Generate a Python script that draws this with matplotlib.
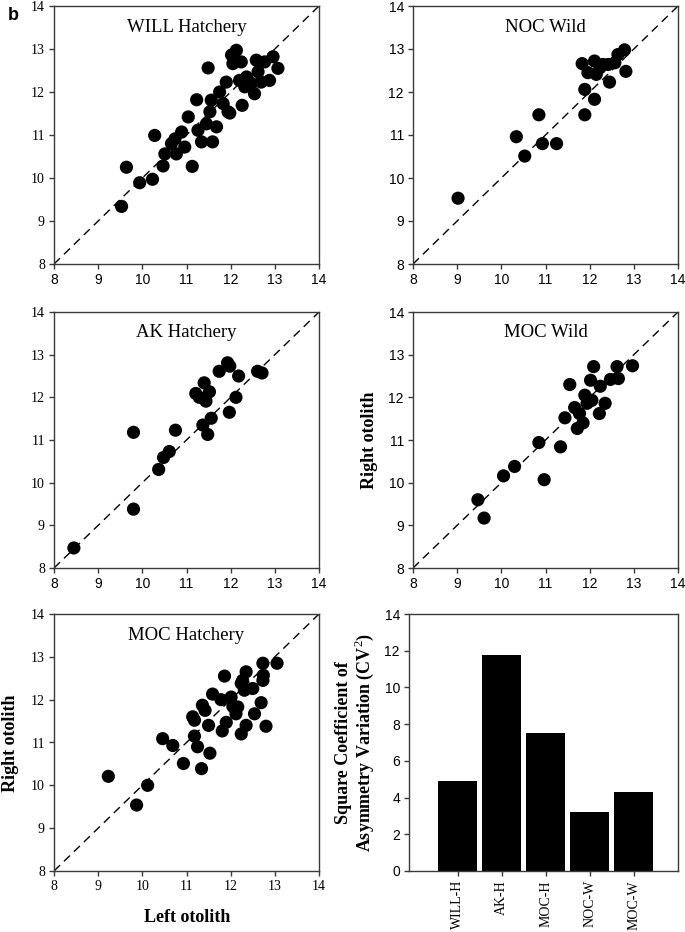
import numpy as np
import matplotlib
matplotlib.use("Agg")
import matplotlib.pyplot as plt

SERIF = "Liberation Serif"
SANS = "Liberation Sans"
plt.rcParams["mathtext.fontset"] = "custom"
plt.rcParams["mathtext.rm"] = SERIF
plt.rcParams["mathtext.bf"] = SERIF + ":bold"

will_left = [9.53, 9.64, 9.94, 10.23, 10.28, 10.47, 10.51, 10.66, 10.77, 10.89, 10.96, 10.74,
             11.04, 11.13, 11.23, 11.26, 11.34, 11.45, 11.49, 11.59, 11.53, 11.56, 11.68, 11.75,
             11.83, 11.94, 11.90, 11.98, 12.02, 12.13, 12.05, 12.24, 12.20, 12.26, 12.32, 12.47,
             12.54, 12.58, 12.62, 12.69, 12.88, 12.96, 13.07, 12.77, 12.36]
will_right = [9.34, 10.25, 9.89, 9.97, 10.99, 10.28, 10.56, 10.80, 10.56, 11.07, 10.72, 10.91,
              11.42, 10.27, 11.82, 11.11, 10.84, 11.26, 12.56, 10.84, 11.54, 11.81, 11.19, 12.00,
              11.73, 11.54, 12.23, 11.51, 12.86, 12.97, 12.66, 12.70, 12.27, 11.69, 12.12, 12.20,
              11.96, 12.74, 12.47, 12.23, 12.27, 12.82, 12.55, 12.70, 12.35]

noc_left = [9.02, 10.34, 10.53, 10.85, 10.93, 11.25, 11.89, 11.89, 11.83, 12.11, 11.96, 12.11,
            12.15, 12.23, 12.45, 12.42, 12.57, 12.64, 12.79, 12.82, 12.30]
noc_right = [9.53, 10.96, 10.51, 11.47, 10.80, 10.80, 11.47, 12.06, 12.66, 11.83, 12.45, 12.72,
             12.41, 12.56, 12.23, 12.64, 12.68, 12.87, 12.98, 12.48, 12.64]

ak_left = [8.45, 9.80, 9.80, 10.37, 10.48, 10.61, 10.75, 11.37, 11.48, 11.56, 11.21, 11.29,
           11.40, 11.44, 11.52, 11.74, 11.93, 11.98, 11.97, 12.12, 12.18, 12.61, 12.71]
ak_right = [8.47, 9.38, 11.18, 10.31, 10.59, 10.73, 11.23, 11.35, 11.13, 11.51, 12.09, 12.00,
            12.34, 11.91, 12.13, 12.61, 12.81, 12.73, 11.65, 12.00, 12.50, 12.61, 12.57]

mocw_left = [9.47, 9.61, 10.05, 10.30, 10.85, 10.97, 11.34, 11.44, 11.55, 11.66, 11.72, 11.85,
             11.77, 11.89, 11.94, 12.05, 12.02, 12.09, 12.22, 12.24, 12.35, 12.47, 12.65, 12.62,
             12.97]
mocw_right = [9.60, 9.17, 10.16, 10.38, 10.94, 10.07, 10.84, 11.52, 12.30, 11.76, 11.27, 11.40,
              11.62, 12.05, 11.86, 11.93, 12.40, 12.72, 11.62, 12.26, 11.86, 12.42, 12.44, 12.72,
              12.74]

moch_left = [9.23, 9.87, 10.12, 10.46, 10.69, 10.93, 11.14, 11.18, 11.18, 11.25, 11.34, 11.36,
             11.42, 11.50, 11.53, 11.59, 11.81, 11.86, 11.78, 11.90, 12.01, 12.05, 12.12, 12.24,
             12.24, 12.31, 12.35, 12.35, 12.50, 12.54, 12.69, 12.73, 12.74, 12.73, 12.80, 13.05,
             12.16, 12.27]
moch_right = [10.21, 9.54, 10.00, 11.09, 10.93, 10.51, 11.60, 11.52, 11.15, 10.90, 10.39, 11.87,
              11.75, 11.40, 10.75, 12.13, 11.27, 12.55, 12.00, 11.47, 12.06, 11.84, 11.67, 11.20,
              12.38, 12.22, 12.65, 11.40, 12.26, 11.67, 11.93, 12.45, 12.57, 12.85, 11.38, 12.85,
              11.83, 12.45]

# Square coefficient of asymmetry variation
groups = ["WILL-H", "AK-H", "MOC-H", "NOC-W", "MOC-W"]
cv2 = [4.9, 11.75, 7.5, 3.2, 4.3]

W, H = 685, 932
fig = plt.figure(figsize=(W / 100, H / 100), dpi=100)


def px_axes(left, top, right, bottom):
    return fig.add_axes([left / W, 1 - bottom / H, (right - left) / W, (bottom - top) / H])


def style_axes(ax, yfont, xfont):
    for s in ax.spines.values():
        s.set_color("#3a3a3a")
        s.set_linewidth(1.0)
    ax.tick_params(direction="out", length=3.5, width=1, color="#3a3a3a", pad=3,
                   top=False, right=False)
    for lab in ax.get_yticklabels():
        lab.set_fontfamily(yfont)
        lab.set_fontsize(10)
    for lab in ax.get_xticklabels():
        lab.set_fontfamily(xfont)
        lab.set_fontsize(10)


def scatter_panel(ax, x, y, title, yfont, xfont):
    ax.plot([8, 14], [8, 14], color="black", lw=1.0, ls=(0, (6, 4)), zorder=1)
    ax.scatter(x, y, s=90, color="black", edgecolors="none", zorder=2)
    ax.set_xlim(8, 14)
    ax.set_ylim(8, 14)
    ax.set_xticks(range(8, 15))
    ax.set_yticks(range(8, 15))
    ax.text(0.5, 0.918, title, transform=ax.transAxes, ha="center", va="center",
            fontsize=13.5, fontfamily=SERIF)
    style_axes(ax, yfont, xfont)


cols = [(54, 319), (413, 678)]
rows = [(6, 264), (312, 568), (614, 871)]

ax1 = px_axes(cols[0][0], rows[0][0], cols[0][1], rows[0][1])
scatter_panel(ax1, will_left, will_right, "WILL Hatchery", SERIF, SANS)
ax2 = px_axes(cols[1][0], rows[0][0], cols[1][1], rows[0][1])
scatter_panel(ax2, noc_left, noc_right, "NOC Wild", SANS, SANS)
ax3 = px_axes(cols[0][0], rows[1][0], cols[0][1], rows[1][1])
scatter_panel(ax3, ak_left, ak_right, "AK Hatchery", SERIF, SANS)
ax4 = px_axes(cols[1][0], rows[1][0], cols[1][1], rows[1][1])
scatter_panel(ax4, mocw_left, mocw_right, "MOC Wild", SANS, SANS)
ax5 = px_axes(cols[0][0], rows[2][0], cols[0][1], rows[2][1])
scatter_panel(ax5, moch_left, moch_right, "MOC Hatchery", SERIF, SERIF)

# bar chart
ax6 = px_axes(409, rows[2][0], 678, rows[2][1])
xpos = np.arange(len(groups))
ax6.bar(xpos, cv2, width=0.88, color="black", edgecolor="none")
ax6.set_xlim(-1.1, 5.0)
ax6.set_ylim(0, 14)
ax6.set_yticks(range(0, 15, 2))
ax6.set_xticks(xpos)
ax6.set_xticklabels(groups, rotation=90)
style_axes(ax6, SANS, SERIF)
ax6.set_ylabel("Square Coefficient of\nAsymmetry Variation (CV$^\\mathrm{2}$)", fontfamily=SERIF,
               fontweight="bold", fontsize=13, linespacing=1.05, labelpad=6)

# axis labels
fig.text(11 / W, 1 - 743 / H, "Right otolith", rotation=90, ha="center", va="center",
         fontsize=13, fontweight="bold", fontfamily=SERIF)
fig.text(369 / W, 1 - 440 / H, "Right otolith", rotation=90, ha="center", va="center",
         fontsize=13, fontweight="bold", fontfamily=SERIF)
fig.text(187 / W, 1 - 918 / H, "Left otolith", ha="center", va="center",
         fontsize=13, fontweight="bold", fontfamily=SERIF)
fig.text(13 / W, 1 - 15 / H, "b", ha="center", va="center", fontsize=13,
         fontweight="bold", fontfamily=SANS)

fig.savefig("out.png", dpi=100)
